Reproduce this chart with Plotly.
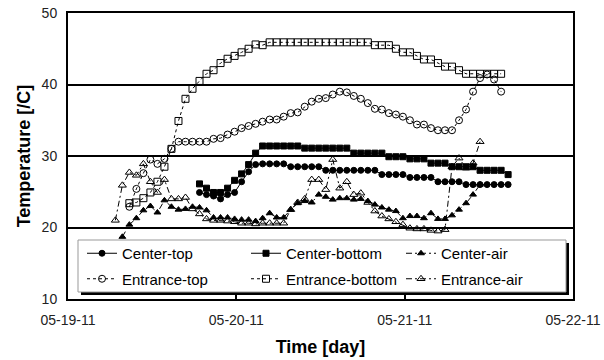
import pandas as pd
import plotly.graph_objects as go

# ---- data (hourly readings) ----
entrance_start = "2011-05-19 08:45"
center_start = "2011-05-19 18:45"
center_air_start = "2011-05-19 07:45"
entrance_air_start = "2011-05-19 06:45"

center_top = [24.9, 24.6, 24.4, 24.0, 24.6, 24.9, 26.4, 27.8, 28.8, 28.9,
              28.9, 28.9, 28.9,
              28.5, 28.5, 28.5, 28.5, 28.5,
              28.0, 28.0, 28.0, 28.0, 28.0, 28.0, 28.0, 28.0,
              27.4, 27.4, 27.4, 27.4,
              27.0, 27.0, 27.0, 27.0,
              26.4, 26.4, 26.4, 26.4,
              26.0, 26.0, 26.0, 26.0, 26.0, 26.0, 26.0]
center_bottom = [26.1, 25.5, 24.9, 24.9, 25.5, 26.6, 27.5, 28.8, 30.4, 31.4,
                 31.4, 31.4, 31.4, 31.4, 31.4,
                 31.1, 31.1, 31.1, 31.1, 31.1, 31.1, 31.1,
                 30.4, 30.4, 30.4, 30.4, 30.4,
                 29.9, 29.9, 29.9,
                 29.6, 29.6, 29.6,
                 29.0, 29.0, 29.0,
                 28.5, 28.5, 28.5, 28.5,
                 28.0, 28.0, 28.0, 28.0,
                 27.4]
center_air = [18.7, 20.4, 21.3, 22.4, 23.0, 22.1, 23.8, 22.9, 22.5, 22.6,
              22.9, 22.8, 22.4, 21.4, 21.4, 21.4, 21.2, 21.1, 21.1, 20.9,
              21.3, 22.0, 21.4, 21.4, 22.5, 23.4, 23.7, 23.5, 24.6, 24.3,
              23.9, 24.1, 24.1, 23.9, 24.0, 23.7, 23.2, 22.8, 22.5, 22.3,
              21.3, 21.6, 21.6, 21.3, 22.0, 21.2, 21.2, 21.7, 22.5, 23.4,
              24.6, 26.0]
entrance_top = [22.9, 25.4, 27.6, 29.5, 28.9, 29.6, 31.0, 32.0, 32.0, 32.0,
                32.0, 32.0, 32.4, 32.5, 33.0, 33.4, 33.9, 34.2, 34.5, 34.8,
                35.1, 35.1, 35.5, 36.0, 36.1, 36.9, 37.6, 38.0, 38.1, 38.6,
                39.0, 38.9, 38.4, 38.0, 37.4, 36.6, 36.5, 36.0, 35.8, 35.5,
                35.0, 34.4, 34.4, 33.9, 33.6, 33.6, 33.6, 35.0, 36.5, 39.0,
                40.9, 41.4, 40.7, 39.0]
entrance_bottom = [23.4, 23.5, 24.1, 24.9, 26.4, 28.5, 31.0, 34.9, 38.0, 39.4,
                   40.5, 41.5, 42.0, 43.0, 43.6, 44.0, 44.5, 45.0, 45.6, 45.5,
                   45.9, 45.9, 45.9, 45.9, 45.9, 45.9, 45.9, 45.9, 45.9, 45.9,
                   45.9, 45.9, 45.9, 45.9, 45.9,
                   45.5, 45.5, 45.5, 45.0, 44.5, 44.5, 44.0, 43.5, 43.5, 43.0,
                   42.5, 42.5, 42.0, 41.5, 41.5, 41.5, 41.5, 41.5, 41.5]
entrance_air = [21.0, 25.9, 27.7, 27.3, 28.9, 26.4, 24.9, 26.7, 24.0, 24.0,
                24.2, 22.6, 21.9, 21.2, 21.0, 21.0, 20.9, 20.8, 20.6, 20.6,
                20.5, 20.6, 20.6, 20.6, 20.6, 22.5, 23.5, 24.0, 26.7, 26.7,
                25.3, 29.5, 25.5, 26.4, 24.6, 24.8, 23.5, 22.3, 21.6, 21.2,
                20.8, 20.4, 19.9, 19.8, 19.8, 19.6, 19.5, 19.7, 28.5, 29.7,
                28.3, 29.0, 32.0]

x_ticks = ["2011-05-19", "2011-05-20", "2011-05-21", "2011-05-22"]
x_tick_text = ["05-19-11", "05-20-11", "05-21-11", "05-22-11"]
y_ticks = [10, 20, 30, 40, 50]


def times(start, n):
    return pd.date_range(start=start, periods=n, freq="h")


series = [
    dict(name="Center-top", start=center_start, y=center_top, symbol="circle",
         dash="solid", size=6, legend="legend"),
    dict(name="Entrance-top", start=entrance_start, y=entrance_top, symbol="circle-open",
         dash="dot", size=7, legend="legend"),
    dict(name="Center-bottom", start=center_start, y=center_bottom, symbol="square",
         dash="solid", size=6, legend="legend2"),
    dict(name="Entrance-bottom", start=entrance_start, y=entrance_bottom, symbol="square-open",
         dash="dot", size=7, legend="legend2"),
    dict(name="Center-air", start=center_air_start, y=center_air, symbol="triangle-up",
         dash="6px,3px,2px,3px", size=6, legend="legend3"),
    dict(name="Entrance-air", start=entrance_air_start, y=entrance_air, symbol="triangle-up-open",
         dash="6px,3px,2px,3px", size=7, legend="legend3"),
]

fig = go.Figure()
for s in series:
    fig.add_trace(go.Scatter(
        x=times(s["start"], len(s["y"])), y=s["y"], name=s["name"],
        mode="lines+markers", legend=s["legend"], legendgroup=s["name"],
        line=dict(color="black", width=1, dash=s["dash"]),
        marker=dict(symbol=s["symbol"], size=s["size"], color="black",
                    line=dict(color="black", width=1)),
    ))

FONT = "Liberation Sans, Arial, sans-serif"
L, R, T, B = 68, 31, 13, 61
W, H = 604, 360
pw, ph = W - L - R, H - T - B


def px(xp):
    return (xp - L) / pw


def py(yp):
    return (H - B - yp) / ph


legend_common = dict(bgcolor="rgba(0,0,0,0)", borderwidth=0, xanchor="left", yanchor="top",
                     font=dict(family=FONT, size=15, color="black"), tracegroupgap=3,
                     itemwidth=30, orientation="v")
fig.update_layout(
    legend=dict(x=px(82), y=py(237), **legend_common),
    legend2=dict(x=px(246), y=py(237), **legend_common),
    legend3=dict(x=px(401), y=py(237), **legend_common),
)

# legend frame with drop shadow
fig.add_shape(type="rect", xref="paper", yref="paper", x0=px(81), x1=px(569), y0=py(295), y1=py(243),
              fillcolor="black", line=dict(width=0), layer="above")
fig.add_shape(type="rect", xref="paper", yref="paper", x0=px(78), x1=px(566), y0=py(292), y1=py(240),
              fillcolor="white", line=dict(color="#999999", width=1), layer="above")

fig.update_layout(
    width=W, height=H,
    margin=dict(l=L, r=R, t=T, b=B, autoexpand=False),
    paper_bgcolor="white", plot_bgcolor="white",
    font=dict(family=FONT, size=14, color="#222222"),
    showlegend=True,
    xaxis=dict(type="date", range=[x_ticks[0], x_ticks[-1]], tickvals=x_ticks, ticktext=x_tick_text,
               automargin=False,
               showgrid=False, zeroline=False, showline=True, linecolor="black", linewidth=2,
               mirror=True, ticks="inside", ticklen=5, tickwidth=1.5, tickcolor="black",
               ticklabelstandoff=7,
               tickfont=dict(family=FONT, size=14, color="#222222"),
               title=dict(text="Time [day]", font=dict(family=FONT, size=18, color="black", weight="bold"),
                          standoff=14)),
    yaxis=dict(range=[10, 50], tickvals=y_ticks, showgrid=True, gridcolor="black", gridwidth=1.5,
               automargin=False,
               zeroline=False, showline=True, linecolor="black", linewidth=2, mirror=True,
               ticks="", ticklabelstandoff=6, tickfont=dict(family=FONT, size=14, color="#222222"),
               title=dict(text="Temperature [/C]", font=dict(family=FONT, size=18, color="black", weight="bold"),
                          standoff=6)),
)

fig.write_html("out.html")
